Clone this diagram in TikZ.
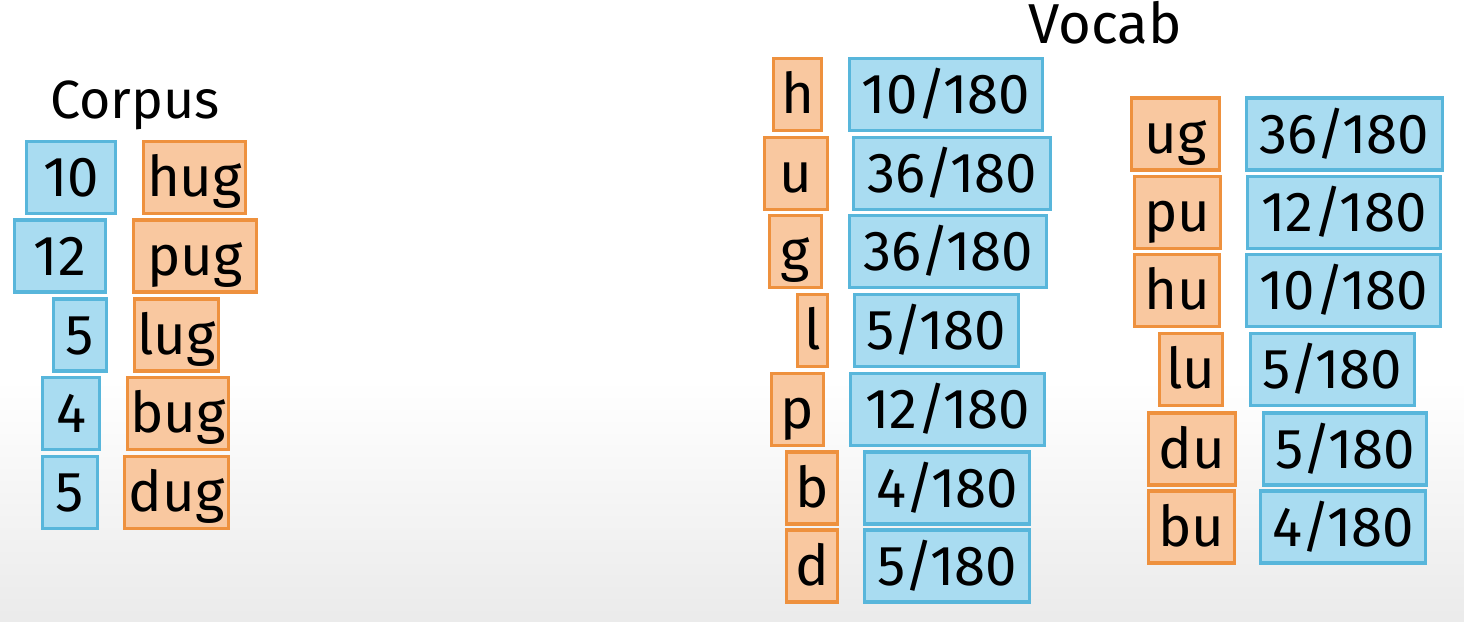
\documentclass[tikz,border=0pt]{standalone}
\usepackage{fontspec}
\setmainfont{Fira Sans}
\definecolor{blueFill}{HTML}{A9DCF1}
\definecolor{blueLine}{HTML}{58B6DB}
\definecolor{orangeFill}{HTML}{F9C8A0}
\definecolor{orangeLine}{HTML}{EE913E}
\tikzset{
  box/.style={rectangle,draw,line width=0.9pt,inner sep=0pt,minimum height=0.72cm,
    text height=0.38cm,text depth=0cm,font=\fontsize{16}{19}\selectfont},
  numbox/.style={box,fill=blueFill,draw=blueLine},
  tokbox/.style={box,fill=orangeFill,draw=orangeLine},
  title/.style={anchor=base,font=\fontsize{16}{19}\selectfont}
}
\begin{document}
\begin{tikzpicture}[x=0.01cm,y=-0.01cm]

      \useasboundingbox (0,0) rectangle (1464,621);
      \fill[white] (0,0) rectangle (1464,621);
      \shade[top color=white,bottom color=black!8] (0,380) rectangle (1464,621);

      \node[title,font=\fontsize{15.3}{18}\selectfont] (corpus) at (135,118) {Corpus};
      \node[title] (vocab) at (1105,43) {Vocab};

      % corpus: counts and words
      \node[numbox,minimum width=0.89cm] (n10)  at (71,177.5)  {10};
      \node[numbox,minimum width=0.91cm] (n12)  at (60,256)    {12};
      \node[numbox,minimum width=0.53cm] (n5a)  at (80,335)    {5};
      \node[numbox,minimum width=0.57cm] (n4)   at (71,413.5)  {4};
      \node[numbox,minimum width=0.55cm] (n5b)  at (70,492.5)  {5};

      \node[tokbox,minimum width=1.02cm] (hug) at (194.5,177.5) {hug};
      \node[tokbox,minimum width=1.23cm] (pug) at (195,256)     {pug};
      \node[tokbox,minimum width=0.84cm] (lug) at (176.5,335)   {lug};
      \node[tokbox,minimum width=1.01cm] (bug) at (178,413.5)   {bug};
      \node[tokbox,minimum width=1.04cm] (dug) at (176.5,492.5) {dug};

      % vocab: single letters
      \node[tokbox,minimum width=0.48cm] (h) at (797.5,94.5)  {h};
      \node[tokbox,minimum width=0.63cm] (u) at (796,173.5)   {u};
      \node[tokbox,minimum width=0.52cm] (g) at (795.5,251.5) {g};
      \node[tokbox,minimum width=0.30cm] (l) at (812.5,330.5) {l};
      \node[tokbox,minimum width=0.52cm] (p) at (797.5,409.5) {p};
      \node[tokbox,minimum width=0.51cm] (b) at (812,488)     {b};
      \node[tokbox,minimum width=0.51cm] (d) at (812,566)     {d};

      \node[numbox,minimum width=1.93cm] (ph) at (946,94.5)    {10/180};
      \node[numbox,minimum width=1.97cm] (pu) at (952,173.5)   {36/180};
      \node[numbox,minimum width=1.97cm] (pg) at (948,251.5)   {36/180};
      \node[numbox,minimum width=1.64cm] (pl) at (936.5,330.5) {5/180};
      \node[numbox,minimum width=1.94cm] (pp) at (947.5,409.5) {12/180};
      \node[numbox,minimum width=1.65cm] (pb) at (947,488)     {4/180};
      \node[numbox,minimum width=1.65cm] (pd) at (947,566)     {5/180};

      % vocab: pairs
      \node[tokbox,minimum width=0.88cm] (ug) at (1175.5,134)   {ug};
      \node[tokbox,minimum width=0.86cm] (pu2) at (1177.5,212.5) {pu};
      \node[tokbox,minimum width=0.85cm] (hu) at (1177,290.5)   {hu};
      \node[tokbox,minimum width=0.63cm] (lu) at (1191,369.5)   {lu};
      \node[tokbox,minimum width=0.87cm] (du) at (1192,449)     {du};
      \node[tokbox,minimum width=0.86cm] (bu) at (1191.5,527)   {bu};

      \node[numbox,minimum width=1.96cm] (pug2) at (1344.5,134)  {36/180};
      \node[numbox,minimum width=1.93cm] (ppu)  at (1344,212.5)  {12/180};
      \node[numbox,minimum width=1.94cm] (phu)  at (1343.5,290.5) {10/180};
      \node[numbox,minimum width=1.64cm] (plu)  at (1332.5,369.5) {5/180};
      \node[numbox,minimum width=1.63cm] (pdu)  at (1345,449)    {5/180};
      \node[numbox,minimum width=1.65cm] (pbu)  at (1343,527)    {4/180};

    \end{tikzpicture}
\end{document}
